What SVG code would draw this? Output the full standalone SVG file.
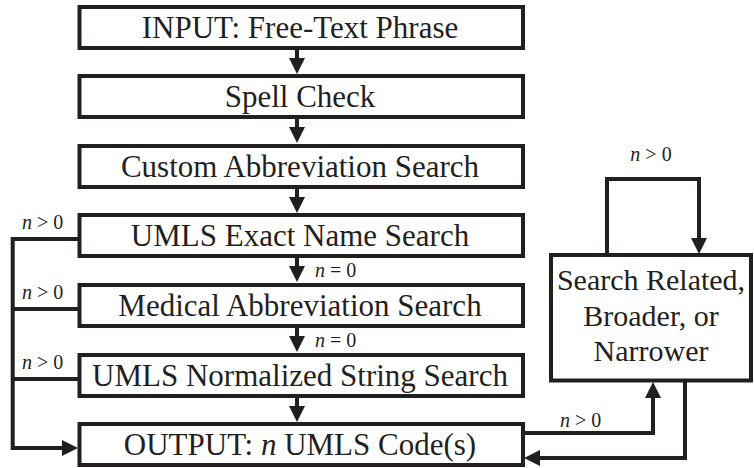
<svg xmlns="http://www.w3.org/2000/svg" width="754" height="468" viewBox="0 0 754 468">
  <style>
    .box { fill: #ffffff; stroke: #231f20; stroke-width: 4; }
    .lbl { font-size: 31px; fill: #231f20; text-anchor: middle; }
    .side { font-size: 30px; }
    .cond { font-size: 20px; fill: #231f20; }
    .edge { fill: none; stroke: #231f20; stroke-width: 4; }
    .arr { marker-end: url(#head); }
  </style>
  <defs>
    <marker id="head" markerUnits="userSpaceOnUse" markerWidth="16" markerHeight="16" viewBox="0 0 16 16" refX="3" refY="8" orient="auto">
      <path d="M0,0 L16,8 L0,16 z" fill="#231f20"/>
    </marker>
  </defs>

  <rect width="754" height="468" fill="#ffffff"/>

  <g font-family="'Liberation Serif', 'Times New Roman', Times, 'DejaVu Serif', serif">
  <!-- connectors -->
  <g id="connectors">
    <!-- main vertical flow -->
    <path class="edge arr" d="M297,49 V61"/>
    <path class="edge arr" d="M297,118 V130"/>
    <path class="edge arr" d="M297,188 V200"/>
    <path class="edge arr" d="M297,257 V269"/>
    <path class="edge arr" d="M297,327 V339"/>
    <path class="edge arr" d="M297,397 V409"/>
    <text class="cond" x="315" y="277"><tspan font-style="italic">n</tspan> = 0</text>
    <text class="cond" x="315" y="347"><tspan font-style="italic">n</tspan> = 0</text>

    <!-- left bypass: any match goes straight to output -->
    <path class="edge arr" d="M79.5,239 H12.7 V448 H65"/>
    <path class="edge" d="M12.7,309 H79.5"/>
    <path class="edge" d="M12.7,379 H79.5"/>
    <text class="cond" x="22" y="229"><tspan font-style="italic">n</tspan> &gt; 0</text>
    <text class="cond" x="22" y="299"><tspan font-style="italic">n</tspan> &gt; 0</text>
    <text class="cond" x="22" y="369"><tspan font-style="italic">n</tspan> &gt; 0</text>

    <!-- related-concept search loop -->
    <path class="edge arr" d="M607,255 V179 H699 V241"/>
    <text class="cond" x="651" y="161" text-anchor="middle"><tspan font-style="italic">n</tspan> &gt; 0</text>
    <path class="edge arr" d="M523,433 H653 V395"/>
    <text class="cond" x="560" y="427"><tspan font-style="italic">n</tspan> &gt; 0</text>
    <path class="edge arr" d="M685,380.5 V458 H537"/>
  </g>

  <!-- nodes -->
  <g id="input">
    <rect class="box" x="79.5" y="7" width="443.5" height="41"/>
    <text class="lbl" x="300" y="38">INPUT: Free-Text Phrase</text>
  </g>
  <g id="spell-check">
    <rect class="box" x="79.5" y="76" width="443.5" height="41"/>
    <text class="lbl" x="300" y="107">Spell Check</text>
  </g>
  <g id="custom-abbrev">
    <rect class="box" x="79.5" y="146" width="443.5" height="41"/>
    <text class="lbl" x="300" y="177">Custom Abbreviation Search</text>
  </g>
  <g id="umls-exact">
    <rect class="box" x="79.5" y="215" width="443.5" height="41"/>
    <text class="lbl" x="300" y="246">UMLS Exact Name Search</text>
  </g>
  <g id="medical-abbrev">
    <rect class="box" x="79.5" y="285" width="443.5" height="41"/>
    <text class="lbl" x="300" y="316">Medical Abbreviation Search</text>
  </g>
  <g id="umls-normalized">
    <rect class="box" x="79.5" y="355" width="443.5" height="41"/>
    <text class="lbl" x="300" y="386">UMLS Normalized String Search</text>
  </g>
  <g id="output">
    <rect class="box" x="79.5" y="424" width="443.5" height="41"/>
    <text class="lbl" x="300" y="455">OUTPUT: <tspan font-style="italic">n</tspan> UMLS Code(s)</text>
  </g>
  <g id="related-search">
    <rect class="box" x="551" y="255" width="200" height="125.5"/>
    <text class="lbl side" x="651" y="290">Search Related,</text>
    <text class="lbl side" x="651" y="326">Broader, or</text>
    <text class="lbl side" x="651" y="361">Narrower</text>
  </g>
  </g>
</svg>
